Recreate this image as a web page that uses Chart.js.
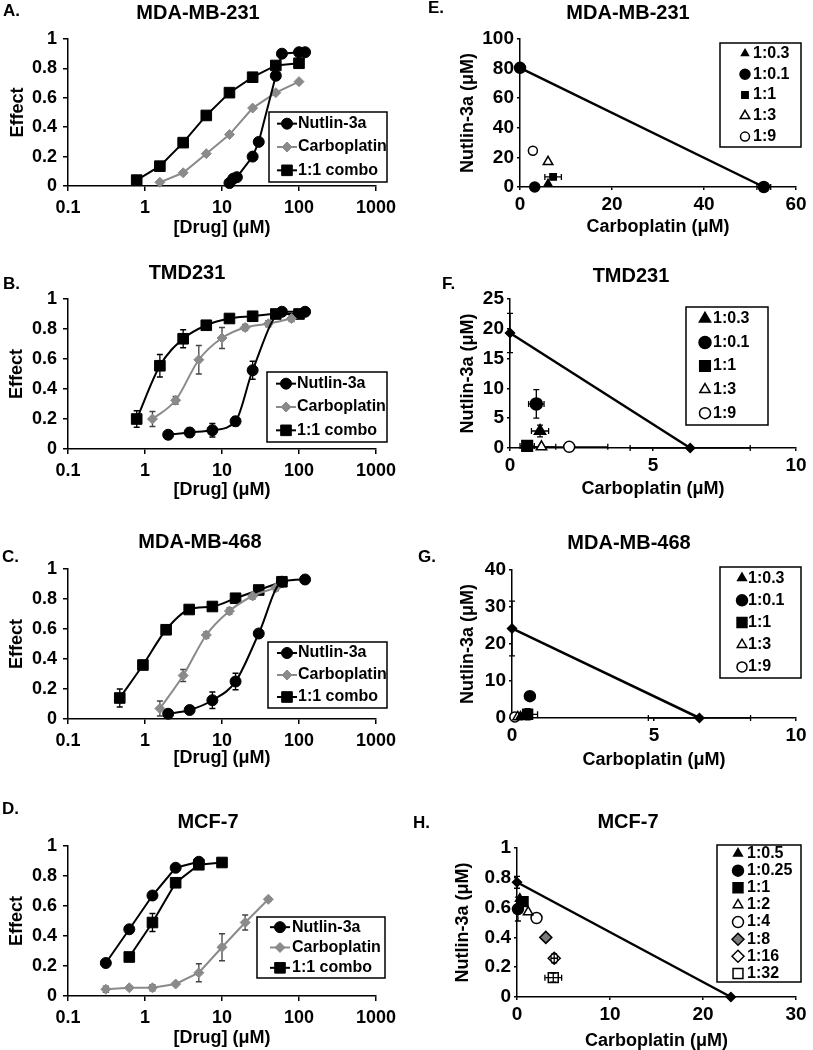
<!DOCTYPE html>
<html>
<head>
<meta charset="utf-8">
<script src="https://cdn.jsdelivr.net/npm/chart.js@4.4.1/dist/chart.umd.min.js"></script>
<style>
  body { margin: 0; background: #fff; }
  #wrap { position: relative; width: 813px; height: 1050px; overflow: hidden; }
  canvas { position: absolute; }
</style>
</head>
<body>
<div id="wrap">
  <canvas id="panelA"></canvas>
  <canvas id="panelB"></canvas>
  <canvas id="panelC"></canvas>
  <canvas id="panelD"></canvas>
  <canvas id="panelE"></canvas>
  <canvas id="panelF"></canvas>
  <canvas id="panelG"></canvas>
  <canvas id="panelH"></canvas>
</div>
<script>
// ---- dose response data (effect vs [drug] uM) ----
const decades = [0.1, 1, 10, 100, 1000];

// A. MDA-MB-231
const aNutlinDose = [12.5, 14, 15.6, 25, 30, 50, 60, 100, 120];
const aNutlinEffect = [0.02, 0.05, 0.06, 0.2, 0.3, 0.75, 0.9, 0.91, 0.91];
const aCarboDose = [1.56, 3.13, 6.25, 12.5, 25, 50, 100];
const aCarboEffect = [0.025, 0.09, 0.22, 0.35, 0.53, 0.635, 0.71];
const aComboDose = [0.78, 1.56, 3.13, 6.25, 12.5, 25, 50, 100];
const aComboEffect = [0.04, 0.135, 0.295, 0.48, 0.635, 0.74, 0.82, 0.835];

// B. TMD231
const bNutlinDose = [2, 3.8, 7.5, 15, 25, 60, 120];
const bNutlinEffect = [0.095, 0.11, 0.125, 0.185, 0.525, 0.915, 0.915];
const bNutlinErr = [0.01, 0.03, 0.045, 0.03, 0.06, 0.01, 0.01];
const bCarboDose = [1.25, 2.5, 5, 10, 20, 40, 80];
const bCarboEffect = [0.2, 0.325, 0.595, 0.74, 0.81, 0.835, 0.87];
const bCarboErr = [0.05, 0.025, 0.095, 0.07, 0.02, 0.02, 0.02];
const bComboDose = [0.78, 1.56, 3.13, 6.25, 12.5, 25, 50, 100];
const bComboEffect = [0.2, 0.555, 0.735, 0.825, 0.87, 0.885, 0.9, 0.9];
const bComboErr = [0.055, 0.075, 0.06, 0.02, 0.02, 0.02, 0.02, 0.02];

// C. MDA-MB-468
const cNutlinDose = [2, 3.8, 7.5, 15, 30, 60, 120];
const cNutlinEffect = [0.035, 0.06, 0.125, 0.25, 0.57, 0.915, 0.93];
const cNutlinErr = [0.01, 0.02, 0.055, 0.055, 0.02, 0.01, 0.01];
const cCarboDose = [1.56, 3.13, 6.25, 12.5, 25, 50];
const cCarboEffect = [0.07, 0.29, 0.56, 0.72, 0.82, 0.875];
const cCarboErr = [0.05, 0.04, 0.02, 0.02, 0.02, 0.02];
const cComboDose = [0.47, 0.94, 1.88, 3.75, 7.5, 15, 30, 60];
const cComboEffect = [0.14, 0.36, 0.595, 0.73, 0.75, 0.805, 0.86, 0.915];
const cComboErr = [0.06, 0.02, 0.02, 0.02, 0.02, 0.02, 0.02, 0.02];

// D. MCF-7
const dNutlinDose = [0.31, 0.625, 1.25, 2.5, 5];
const dNutlinEffect = [0.22, 0.445, 0.67, 0.855, 0.895];
const dCarboDose = [0.31, 0.625, 1.25, 2.5, 5, 10, 20, 40];
const dCarboEffect = [0.045, 0.055, 0.055, 0.08, 0.155, 0.325, 0.49, 0.645];
const dCarboErr = [0.02, 0.01, 0.02, 0.01, 0.06, 0.09, 0.05, 0.01];
const dComboDose = [0.625, 1.25, 2.5, 5, 10];
const dComboEffect = [0.26, 0.49, 0.755, 0.875, 0.89];
const dComboErr = [0, 0.06, 0.03, 0.02, 0.02];

// ---- isobolograms (Nutlin-3a uM vs Carboplatin uM) ----
const ratios5 = ["1:0.3", "1:0.1", "1:1", "1:3", "1:9"];
const ratiosMcf = ["1:0.5", "1:0.25", "1:1", "1:2", "1:4", "1:8", "1:16", "1:32"];

// E. MDA-MB-231
const eLineCarbo = [0, 53];
const eLineNutlin = [80.5, 0];
const eLineErrX = [0, 1.5];
const eCarbo = [6.1, 3.2, 7.2, 6.1, 2.8];
const eNutlin = [2.5, 0, 6.8, 17, 24.5];
const eErrX = [0, 0, 1.8, 0, 0.6];
const eErrY = [0, 0, 0.8, 0, 0];

// F. TMD231
const fLineCarbo = [0, 6.3];
const fLineNutlin = [19.3, 0];
const fLineErrX = [0, 2.1];
const fLineErrY = [3.3, 0];
const fCarbo = [1.05, 0.92, 0.6, 1.1, 2.07];
const fNutlin = [2.85, 7.4, 0.35, 0.2, 0.2];
const fErrX = [0.3, 0.27, 0.25, 0.5, 1.35];
const fErrY = [1, 2.4, 0.3, 0.2, 0.2];

// G. MDA-MB-468
const gLineCarbo = [0, 6.6];
const gLineNutlin = [24.2, 0];
const gLineErrX = [0, 1.8];
const gLineErrY = [7.4, 0];
const gCarbo = [0.3, 0.63, 0.55, 0.2, 0.1];
const gNutlin = [0.4, 5.9, 1.0, 0.3, 0.3];
const gErrX = [0.15, 0, 0.35, 0.1, 0.1];
const gErrY = [0.3, 0, 1.5, 0.3, 0.3];

// H. MCF-7
const hLineCarbo = [0, 23];
const hLineNutlin = [0.77, 0];
const hLineErrY = [0.04, 0];
const hCarbo = [0.3, 0.1, 0.65, 1.2, 2.1, 3.1, 4.0, 3.9];
const hNutlin = [0.66, 0.59, 0.64, 0.57, 0.53, 0.4, 0.26, 0.13];
const hErrX = [0, 0, 0, 0, 0, 0, 0.35, 0.9];
const hErrY = [0, 0.08, 0.03, 0, 0, 0, 0.03, 0.03];

// ---- helpers ----
const FONT = "'Liberation Sans', Arial, Helvetica, sans-serif";
const BLACK = "#000";
const GREY = "#8a8a8a";

function pts(xs, ys) {
  return xs.map((x, i) => ({ x: x, y: ys[i] }));
}

// "1", "0.8", ... (no trailing zero)
function plainNum(v) {
  return String(Math.round(v * 100) / 100);
}

const panelText = {
  id: "panelText",
  afterDraw(chart, args, opts) {
    const ctx = chart.ctx;
    ctx.save();
    ctx.fillStyle = BLACK;
    ctx.textBaseline = "middle";
    ctx.textAlign = "center";
    ctx.font = "bold 20px " + FONT;
    ctx.fillText(opts.title, opts.tx, opts.ty);
    ctx.textAlign = "left";
    ctx.font = "bold 17px " + FONT;
    ctx.fillText(opts.letter, opts.lx, opts.ly);
    ctx.restore();
  },
};

// error bars read from dataset.errX / dataset.errY
const errorBars = {
  id: "errorBars",
  beforeDatasetsDraw(chart) {
    const ctx = chart.ctx;
    const xs = chart.scales.x;
    const ys = chart.scales.y;
    chart.data.datasets.forEach((ds) => {
      if (!ds.errX && !ds.errY) return;
      ctx.save();
      ctx.strokeStyle = ds.errColor || BLACK;
      ctx.lineWidth = 1.3;
      ds.data.forEach((p, i) => {
        const px = xs.getPixelForValue(p.x);
        const py = ys.getPixelForValue(p.y);
        const ey = ds.errY ? ds.errY[i] : 0;
        const ex = ds.errX ? ds.errX[i] : 0;
        ctx.beginPath();
        if (ey) {
          const y1 = ys.getPixelForValue(p.y - ey);
          const y2 = ys.getPixelForValue(p.y + ey);
          ctx.moveTo(px, y1); ctx.lineTo(px, y2);
          ctx.moveTo(px - 3, y1); ctx.lineTo(px + 3, y1);
          ctx.moveTo(px - 3, y2); ctx.lineTo(px + 3, y2);
        }
        if (ex) {
          const x1 = xs.getPixelForValue(p.x - ex);
          const x2 = xs.getPixelForValue(p.x + ex);
          ctx.moveTo(x1, py); ctx.lineTo(x2, py);
          ctx.moveTo(x1, py - 3); ctx.lineTo(x1, py + 3);
          ctx.moveTo(x2, py - 3); ctx.lineTo(x2, py + 3);
        }
        ctx.stroke();
      });
      ctx.restore();
    });
  },
};

// boxed legend placed inside the plot
const boxLegend = {
  id: "boxLegend",
  afterDraw(chart, args, opts) {
    if (!opts.box) return;
    const ctx = chart.ctx;
    const [x1, y1, x2, y2] = opts.box;
    const items = chart.data.datasets.filter((d) => !d.noLegend);
    ctx.save();
    ctx.fillStyle = "#fff";
    ctx.fillRect(x1, y1, x2 - x1, y2 - y1);
    ctx.strokeStyle = BLACK;
    ctx.lineWidth = 1.5;
    ctx.strokeRect(x1, y1, x2 - x1, y2 - y1);
    const step = (y2 - y1) / items.length;
    items.forEach((d, i) => {
      const cy = y1 + step * (i + 0.5);
      const mx = x1 + opts.markerDx;
      if (opts.lineSample) {
        ctx.strokeStyle = d.borderColor;
        ctx.lineWidth = 2;
        ctx.beginPath();
        ctx.moveTo(mx - 10, cy);
        ctx.lineTo(mx + 10, cy);
        ctx.stroke();
      }
      ctx.fillStyle = d.pointBackgroundColor;
      ctx.strokeStyle = d.pointBorderColor;
      ctx.lineWidth = d.pointBorderWidth;
      Chart.helpers.drawPoint(ctx, {
        pointStyle: d.pointStyle,
        radius: d.legendRadius || d.pointRadius,
        rotation: 0,
        borderWidth: d.pointBorderWidth,
      }, mx, cy);
      ctx.fillStyle = BLACK;
      ctx.font = "bold 16px " + FONT;
      ctx.textAlign = "left";
      ctx.textBaseline = "middle";
      ctx.fillText(d.label, x1 + opts.textDx, cy);
    });
    ctx.restore();
  },
};

function axisBase(fontSize, tickLen, pad) {
  return {
    border: { display: true, color: BLACK, width: 1.5 },
    grid: {
      display: true,
      drawOnChartArea: false,
      drawTicks: true,
      tickLength: tickLen,
      color: BLACK,
      lineWidth: 1.5,
    },
    ticks: {
      color: BLACK,
      font: { family: FONT, size: fontSize, weight: "bold" },
      padding: pad,
      autoSkip: false,
      maxRotation: 0,
      minRotation: 0,
      callback: plainNum,
    },
  };
}

function logDoseAxis() {
  const ax = axisBase(18, 5, 6);
  ax.type = "logarithmic";
  ax.min = 0.1;
  ax.max = 1000;
  ax.afterBuildTicks = (s) => {
    s.ticks = decades.map((v) => ({ value: v }));
  };
  return ax;
}

function effectAxis() {
  const ax = axisBase(18, 5, 6);
  ax.min = 0;
  ax.max = 1;
  ax.ticks.stepSize = 0.2;
  return ax;
}

function linAxis(max, step) {
  const ax = axisBase(19, 3, 3);
  ax.min = 0;
  ax.max = max;
  ax.ticks.stepSize = step;
  return ax;
}

function curve(label, xs, ys, errs, style, smooth) {
  return Object.assign({
    label: label,
    data: pts(xs, ys),
    errY: errs,
    showLine: true,
    borderWidth: 2,
    pointBorderWidth: 1,
    cubicInterpolationMode: smooth ? "monotone" : "default",
  }, style);
}

const nutStyle = { borderColor: BLACK, pointStyle: "circle", pointRadius: 5.5, pointBackgroundColor: BLACK, pointBorderColor: BLACK };
const carboStyle = { borderColor: GREY, pointStyle: "rectRot", pointRadius: 5, pointBackgroundColor: GREY, pointBorderColor: GREY, errColor: "#444" };
const comboStyle = { borderColor: BLACK, pointStyle: "rect", pointRadius: 7.5, pointBackgroundColor: BLACK, pointBorderColor: BLACK };

function marker(shape, fill, r) {
  return { pointStyle: shape, pointRadius: r, pointBackgroundColor: fill, pointBorderColor: BLACK, pointBorderWidth: 1.5 };
}

function isobole(xs, ys, ex, ey, shape, r) {
  return Object.assign({
    label: "isobole",
    noLegend: true,
    data: pts(xs, ys),
    errX: ex,
    errY: ey,
    showLine: true,
    borderColor: BLACK,
    borderWidth: 2.5,
  }, marker(shape, BLACK, r));
}

function ratioSets(labels, xs, ys, ex, ey, styles) {
  return labels.map((lab, i) => Object.assign({
    label: lab,
    data: [{ x: xs[i], y: ys[i] }],
    errX: [ex[i]],
    errY: [ey[i]],
  }, styles[i]));
}

function makePanel(id, s, datasets, xScale, yScale, legend) {
  const [cl, ct, cw, ch] = s.canvas;
  const [L, T, R, B] = s.area;
  const cv = document.getElementById(id);
  cv.width = cw;
  cv.height = ch;
  cv.style.left = cl + "px";
  cv.style.top = ct + "px";
  const tFont = { family: FONT, size: 18, weight: "bold", lineHeight: 1 };
  xScale.title = { display: true, text: s.xTitle, color: BLACK, font: tFont, padding: { top: 0, bottom: ct + ch - s.xTitleY - 9 } };
  yScale.title = { display: true, text: s.yTitle, color: BLACK, font: tFont, padding: { top: s.yTitleX - cl - 9, bottom: 0 } };
  xScale.afterFit = (sc) => { sc.height = ct + ch - B; };
  yScale.afterFit = (sc) => { sc.width = L - cl; };
  datasets.forEach((d) => { d.clip = false; });
  const lg = Object.assign({}, legend, {
    box: [legend.box[0] - cl, legend.box[1] - ct, legend.box[2] - cl, legend.box[3] - ct],
  });
  new Chart(cv, {
    type: "scatter",
    data: { datasets: datasets },
    options: {
      responsive: false,
      animation: false,
      devicePixelRatio: 1,
      layout: { padding: { left: 0, top: T - ct, right: cl + cw - R, bottom: 0 } },
      scales: { x: xScale, y: yScale },
      plugins: {
        legend: { display: false },
        tooltip: { enabled: false },
        panelText: {
          title: s.title,
          letter: s.letter,
          tx: s.titleAt[0] - cl,
          ty: s.titleAt[1] - ct,
          lx: s.letterAt[0] - cl,
          ly: s.letterAt[1] - ct,
        },
        boxLegend: lg,
      },
    },
    plugins: [panelText, errorBars, boxLegend],
  });
}

// ---- left column: dose response ----
const doseTitles = { xTitle: "[Drug] (μM)", yTitle: "Effect" };

makePanel("panelA",
  Object.assign({ canvas: [0, 0, 405, 258], area: [68, 39, 376, 186], title: "MDA-MB-231", titleAt: [198, 13], letter: "A.", letterAt: [3, 11], xTitleY: 228, yTitleX: 18 }, doseTitles),
  [
    curve("Nutlin-3a", aNutlinDose, aNutlinEffect, null, nutStyle, false),
    curve("Carboplatin", aCarboDose, aCarboEffect, null, carboStyle, false),
    curve("1:1 combo", aComboDose, aComboEffect, null, comboStyle, false),
  ],
  logDoseAxis(), effectAxis(),
  { box: [269, 112, 387, 182], markerDx: 18, textDx: 29, lineSample: true });

makePanel("panelB",
  Object.assign({ canvas: [0, 258, 405, 262], area: [68, 299, 376, 449], title: "TMD231", titleAt: [187, 273], letter: "B.", letterAt: [3, 284], xTitleY: 490, yTitleX: 17.5 }, doseTitles),
  [
    curve("Nutlin-3a", bNutlinDose, bNutlinEffect, bNutlinErr, nutStyle, true),
    curve("Carboplatin", bCarboDose, bCarboEffect, bCarboErr, carboStyle, true),
    curve("1:1 combo", bComboDose, bComboEffect, bComboErr, comboStyle, true),
  ],
  logDoseAxis(), effectAxis(),
  { box: [267, 372, 387, 442], markerDx: 19, textDx: 30, lineSample: true });

makePanel("panelC",
  Object.assign({ canvas: [0, 520, 405, 262], area: [68, 569, 376, 719], title: "MDA-MB-468", titleAt: [200, 542], letter: "C.", letterAt: [2, 557], xTitleY: 758, yTitleX: 17.5 }, doseTitles),
  [
    curve("Nutlin-3a", cNutlinDose, cNutlinEffect, cNutlinErr, nutStyle, true),
    curve("Carboplatin", cCarboDose, cCarboEffect, cCarboErr, carboStyle, true),
    curve("1:1 combo", cComboDose, cComboEffect, cComboErr, comboStyle, true),
  ],
  logDoseAxis(), effectAxis(),
  { box: [268, 642, 387, 708], markerDx: 19, textDx: 30, lineSample: true });

makePanel("panelD",
  Object.assign({ canvas: [0, 782, 405, 268], area: [68, 846, 376, 996], title: "MCF-7", titleAt: [208, 822], letter: "D.", letterAt: [2, 809], xTitleY: 1038, yTitleX: 17.5 }, doseTitles),
  [
    curve("Nutlin-3a", dNutlinDose, dNutlinEffect, null, nutStyle, false),
    curve("Carboplatin", dCarboDose, dCarboEffect, dCarboErr, carboStyle, false),
    curve("1:1 combo", dComboDose, dComboEffect, dComboErr, comboStyle, false),
  ],
  logDoseAxis(), effectAxis(),
  { box: [257, 917, 385, 978], markerDx: 23, textDx: 35, lineSample: true });

// ---- right column: isobolograms ----
const isoTitles = { xTitle: "Carboplatin (μM)", yTitle: "Nutlin-3a (μM)" };

makePanel("panelE",
  Object.assign({ canvas: [405, 0, 408, 258], area: [520, 39, 796, 187], title: "MDA-MB-231", titleAt: [628, 13], letter: "E.", letterAt: [428, 8], xTitleY: 227, yTitleX: 468 }, isoTitles),
  [isobole(eLineCarbo, eLineNutlin, eLineErrX, null, "circle", 5.5)].concat(
    ratioSets(ratios5, eCarbo, eNutlin, eErrX, eErrY, [
      marker("triangle", BLACK, 4), marker("circle", BLACK, 5), marker("rect", BLACK, 4.5),
      marker("triangle", "#fff", 5.5), marker("circle", "#fff", 4.5),
    ])),
  linAxis(60, 20), linAxis(100, 20),
  { box: [720, 43, 801, 147], markerDx: 25, textDx: 33 });

makePanel("panelF",
  Object.assign({ canvas: [405, 258, 408, 262], area: [510, 299, 796, 448], title: "TMD231", titleAt: [631, 276], letter: "F.", letterAt: [442, 284], xTitleY: 489, yTitleX: 468 }, isoTitles),
  [isobole(fLineCarbo, fLineNutlin, fLineErrX, fLineErrY, "rectRot", 4.5)].concat(
    ratioSets(ratios5, fCarbo, fNutlin, fErrX, fErrY, [
      marker("triangle", BLACK, 6.5), marker("circle", BLACK, 6), marker("rect", BLACK, 7.5),
      marker("triangle", "#fff", 6), marker("circle", "#fff", 5.5),
    ])),
  linAxis(10, 5), linAxis(25, 5),
  { box: [686, 307, 768, 425], markerDx: 19, textDx: 27 });

makePanel("panelG",
  Object.assign({ canvas: [405, 520, 408, 262], area: [512, 570, 796, 718], title: "MDA-MB-468", titleAt: [629, 543], letter: "G.", letterAt: [418, 557], xTitleY: 760, yTitleX: 468 }, isoTitles),
  [isobole(gLineCarbo, gLineNutlin, gLineErrX, gLineErrY, "rectRot", 4.5)].concat(
    ratioSets(ratios5, gCarbo, gNutlin, gErrX, gErrY, [
      marker("triangle", BLACK, 5), marker("circle", BLACK, 5.5), marker("rect", BLACK, 7),
      marker("triangle", "#fff", 5.5), marker("circle", "#fff", 5),
    ])),
  linAxis(10, 5), linAxis(40, 10),
  { box: [720, 567, 801, 678], markerDx: 22, textDx: 28 });

makePanel("panelH",
  Object.assign({ canvas: [405, 782, 408, 268], area: [517, 848, 796, 997], title: "MCF-7", titleAt: [628, 822], letter: "H.", letterAt: [413, 823], xTitleY: 1041, yTitleX: 463 }, isoTitles),
  [isobole(hLineCarbo, hLineNutlin, null, hLineErrY, "rectRot", 4.5)].concat(
    ratioSets(ratiosMcf, hCarbo, hNutlin, hErrX, hErrY, [
      marker("triangle", BLACK, 5), marker("circle", BLACK, 5.5), marker("rect", BLACK, 7),
      marker("triangle", "#fff", 5.5), marker("circle", "#fff", 5.5), marker("rectRot", "#7a7a7a", 6),
      marker("rectRot", "rgba(255,255,255,0)", 6), marker("rect", "rgba(255,255,255,0)", 7),
    ])),
  linAxis(30, 10), linAxis(1, 0.2),
  { box: [717, 845, 801, 982], markerDx: 21, textDx: 30 });
</script>
</body>
</html>
